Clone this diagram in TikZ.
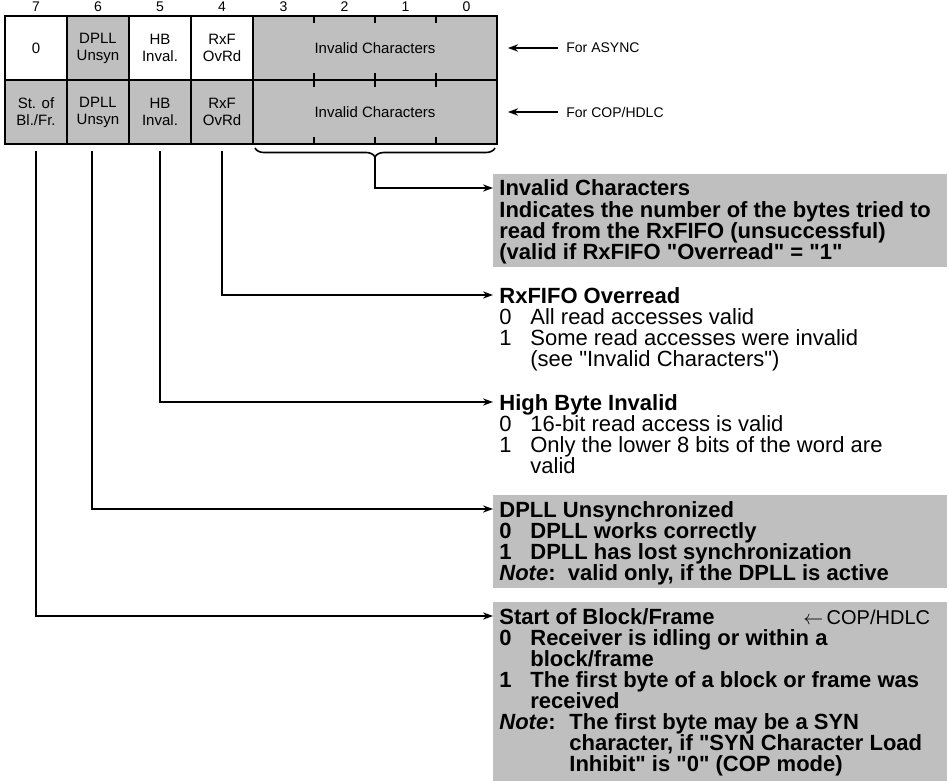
\documentclass[tikz,border=0pt]{standalone}
\usepackage{fontspec}
\setmainfont{Liberation Sans}[Ligatures=TeXOff]
\usetikzlibrary{arrows.meta,decorations.pathreplacing}

% number column in the value lists
\newcommand{\valno}[1]{\makebox[15.5pt][l]{#1}}
\newcommand{\noteno}[1]{\makebox[35pt][l]{#1}}

\tikzset{
  regcell/.style={draw, line width=1pt, minimum width=31pt, minimum height=32pt,
    inner sep=0pt, align=center, font=\fontsize{7.5}{8.5}\selectfont},
  stipple/.style={fill=black!25},
  bitno/.style={font=\fontsize{7}{8}\selectfont},
  modetag/.style={anchor=west, inner sep=0pt, font=\fontsize{7}{8}\selectfont},
  tag/.style={anchor=west, inner sep=0pt, text height=8pt, text depth=0pt,
    font=\fontsize{11}{10.5}\selectfont\bfseries},
  expl/.style={anchor=north west, inner sep=0pt, align=left,
    font=\fontsize{11}{10.5}\selectfont},
  lead/.style={line width=0.8pt, -{Stealth[length=5pt,width=3.6pt]}},
}

\begin{document}
\begin{tikzpicture}[x=0.5pt,y=-0.5pt]
    \useasboundingbox (0,0) rectangle (949,781);
    % bit numbers
    \foreach \x/\n in {36/7, 98/6, 160/5, 222/4, 283.5/3, 344.5/2, 405.5/1, 466.5/0}
        \node[bitno] (n\n) at (\x,7) {\n};
    % register, ASYNC row
    \node[regcell] (a7) at (36,48) {0};
    \node[regcell, stipple] (a6) at (98,48) {DPLL\\Unsyn};
    \node[regcell] (a5) at (160,48) {HB\\Inval.};
    \node[regcell] (a4) at (222,48) {RxF\\OvRd};
    \node[regcell, stipple, minimum width=122pt] (ainv) at (375,48) {Invalid Characters};
    % register, COP/HDLC row
    \node[regcell, stipple] (c7) at (36,112) {St. of\\Bl./Fr.};
    \node[regcell, stipple] (c6) at (98,112) {DPLL\\Unsyn};
    \node[regcell, stipple] (c5) at (160,112) {HB\\Inval.};
    \node[regcell, stipple] (c4) at (222,112) {RxF\\OvRd};
    \node[regcell, stipple, minimum width=122pt] (cinv) at (375,112) {Invalid Characters};
    % bit ticks in the counter field
    \foreach \x in {314,375,436}
        \draw[line width=1pt] (\x,16) -- (\x,23) (\x,73) -- (\x,87) (\x,137) -- (\x,144);
    % mode tags
    \node[modetag] (async) at (566,48) {For ASYNC};
    \node[modetag] (hdlc) at (566,112) {For COP/HDLC};
    \draw[lead] ([xshift=-4pt]async.west) -- ([xshift=5pt]ainv.east);
    \draw[lead] ([xshift=-4pt]hdlc.west) -- ([xshift=5pt]cinv.east);

    % shaded explanations
    \fill[stipple] (493,174) rectangle (947,267);
    \fill[stipple] (493,495) rectangle (947,588);
    \fill[stipple] (493,602) rectangle (947,781);

    % Invalid Characters
    \node[tag] (invt) at (499,188) {Invalid Characters};
    \node[expl, font=\fontsize{11}{10.5}\selectfont\bfseries] (invb) at (499,201) {\rule{0pt}{8pt}Indicates the number of the bytes tried to\\
        read from the RxFIFO (unsuccessful)\\
        (valid if RxFIFO "Overread" = "1"};
    % RxFIFO Overread
    \node[tag] (rxft) at (499,295) {RxFIFO Overread};
    \node[expl] (rxfb) at (499,308) {\rule{0pt}{8pt}\valno{0}All read accesses valid\\
        \valno{1}Some read accesses were invalid\\
        \valno{}(see "Invalid Characters")};
    % High Byte Invalid
    \node[tag] (hbt) at (499,402) {High Byte Invalid};
    \node[expl] (hbb) at (499,415) {\rule{0pt}{8pt}\valno{0}16-bit read access is valid\\
        \valno{1}Only the lower 8 bits of the word are\\
        \valno{}valid};
    % DPLL Unsynchronized
    \node[tag] (dpllt) at (499,509) {DPLL Unsynchronized};
    \node[expl, font=\fontsize{11}{10.5}\selectfont\bfseries] (dpllb) at (499,522) {\rule{0pt}{8pt}\valno{0}DPLL works correctly\\
        \valno{1}DPLL has lost synchronization\\
        \textit{Note}:\ \ valid only, if the DPLL is active};
    % Start of Block/Frame
    \node[tag] (sbft) at (499,616) {\makebox[152pt][l]{Start of Block/Frame}{\mdseries\fontsize{10}{10}\selectfont$\leftarrow$\,COP/HDLC}};
    \node[expl, font=\fontsize{11}{10.5}\selectfont\bfseries] (sbfb) at (499,629) {\rule{0pt}{8pt}\valno{0}Receiver is idling or within a\\
        \valno{}block/frame\\
        \valno{1}The first byte of a block or frame was\\
        \valno{}received\\
        \noteno{\textit{Note}:}The first byte may be a SYN\\
        \noteno{}character, if "SYN Character Load\\
        \noteno{}Inhibit" is "0" (COP mode)};

    % brace over the counter field
    \draw[line width=0.8pt, decorate, decoration={brace, mirror, amplitude=4.5pt}] (255,148) -- (495,148);
    \coordinate (brtip) at (375,157);

    % leads from the bits
    \draw[lead, shorten >=3pt] (brtip) |- (invt.west);
    \draw[lead, shorten >=3pt] ([yshift=-3pt]c4.south) |- (rxft.west);
    \draw[lead, shorten >=3pt] ([yshift=-3pt]c5.south) |- (hbt.west);
    \draw[lead, shorten >=3pt] ([xshift=-3pt,yshift=-3pt]c6.south) |- (dpllt.west);
    \draw[lead, shorten >=3pt] ([yshift=-3pt]c7.south) |- (sbft.west);
\end{tikzpicture}
\end{document}
